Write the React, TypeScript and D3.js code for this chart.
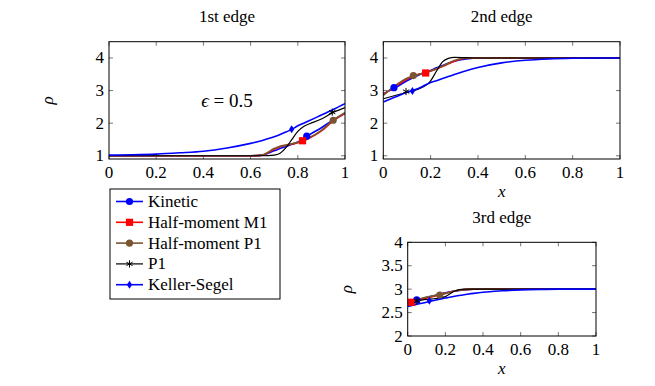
import * as d3 from "d3";

// series order: Kinetic, Half-moment M1, Half-moment P1, P1, Keller-Segel
const seriesNames = ["Kinetic", "Half-moment M1", "Half-moment P1", "P1", "Keller-Segel"];
const seriesColors = ["#0000ff", "#ff0000", "#7a5530", "#000000", "#0000ff"];
const seriesMarks = ["circle", "square", "circle", "star", "diamond"];

// 1st edge
const edge1X = [0, 0.1, 0.2, 0.3, 0.4, 0.5, 0.6, 0.65, 0.7, 0.725, 0.75, 0.775, 0.8, 0.825, 0.85, 0.9, 0.95, 1];
const edge1Kinetic = [1, 1, 1, 1, 1, 1, 1, 1.02, 1.15, 1.22, 1.28, 1.35, 1.42, 1.53, 1.65, 1.86, 2.1, 2.3];
const edge1M1 = [1, 1, 1, 1, 1, 1, 1, 1.02, 1.2, 1.28, 1.32, 1.36, 1.4, 1.46, 1.54, 1.76, 2.07, 2.3];
const edge1HP1 = [1, 1, 1, 1, 1, 1, 1, 1.03, 1.22, 1.29, 1.33, 1.37, 1.41, 1.48, 1.56, 1.78, 2.09, 2.32];
const edge1P1 = [1, 1, 1, 1, 1, 1, 1, 1, 1.02, 1.08, 1.25, 1.5, 1.75, 1.9, 1.98, 2.13, 2.33, 2.48];
const edge1KS = [1.02, 1.03, 1.05, 1.09, 1.14, 1.24, 1.38, 1.47, 1.58, 1.65, 1.73, 1.81, 1.92, 2.0, 2.08, 2.25, 2.42, 2.6];
const edge1Marks = [[0.838, 1.6], [0.82, 1.46], [0.95, 2.09], [0.946, 2.34], [0.774, 1.81]];

// 2nd edge
const edge2X = [0, 0.05, 0.1, 0.15, 0.2, 0.225, 0.25, 0.275, 0.3, 0.35, 0.4, 0.5, 0.6, 0.7, 0.8, 0.9, 1];
const edge2Kinetic = [2.9, 3.09, 3.3, 3.48, 3.62, 3.7, 3.77, 3.84, 3.9, 3.97, 4.0, 4, 4, 4, 4, 4, 4];
const edge2M1 = [2.88, 3.12, 3.35, 3.5, 3.6, 3.66, 3.74, 3.82, 3.9, 3.99, 4.0, 4, 4, 4, 4, 4, 4];
const edge2HP1 = [2.85, 3.15, 3.38, 3.5, 3.6, 3.67, 3.75, 3.84, 3.92, 4.0, 4.0, 4, 4, 4, 4, 4, 4];
const edge2P1 = [2.75, 2.85, 2.95, 3.05, 3.3, 3.6, 3.88, 3.99, 4.02, 4.01, 4.0, 4, 4, 4, 4, 4, 4];
const edge2KS = [2.65, 2.8, 2.95, 3.07, 3.25, 3.3, 3.37, 3.43, 3.49, 3.61, 3.71, 3.85, 3.93, 3.97, 3.99, 4.0, 4.0];
const edge2Marks = [[0.045, 3.09], [0.179, 3.54], [0.127, 3.46], [0.096, 2.97], [0.123, 2.99]];

// 3rd edge
const edge3X = [0, 0.05, 0.1, 0.15, 0.2, 0.25, 0.3, 0.35, 0.4, 0.5, 0.6, 0.7, 0.8, 1];
const edge3Kinetic = [2.72, 2.77, 2.82, 2.87, 2.92, 2.96, 2.985, 2.997, 3, 3, 3, 3, 3, 3];
const edge3M1 = [2.7, 2.76, 2.81, 2.86, 2.91, 2.96, 2.99, 3.0, 3, 3, 3, 3, 3, 3];
const edge3HP1 = [2.73, 2.78, 2.83, 2.87, 2.91, 2.96, 2.99, 3.0, 3, 3, 3, 3, 3, 3];
const edge3P1 = [2.72, 2.75, 2.78, 2.8, 2.84, 2.96, 3.0, 3.0, 3, 3, 3, 3, 3, 3];
const edge3KS = [2.63, 2.68, 2.72, 2.77, 2.81, 2.85, 2.88, 2.91, 2.935, 2.965, 2.985, 2.995, 3.0, 3.0];
const edge3Marks = [[0.048, 2.77], [0.02, 2.72], [0.17, 2.875], [0.05, 2.75], [0.115, 2.75]];

const xTicks = [0, 0.2, 0.4, 0.6, 0.8, 1];
const yTicksA = [1, 2, 3, 4];
const yTicksB = [2, 2.5, 3, 3.5, 4];

const FONT = "'Times New Roman', Times, 'Liberation Serif', 'DejaVu Serif', 'Noto Serif', serif";

function Marker({ kind, x, y, color }: { kind: string; x: number; y: number; color: string }) {
  if (kind === "circle") return <circle cx={x} cy={y} r={3.6} fill={color} />;
  if (kind === "square") return <rect x={x - 3.6} y={y - 3.6} width={7.2} height={7.2} fill={color} />;
  if (kind === "diamond")
    return <path d={`M${x},${y - 4}L${x + 2.6},${y}L${x},${y + 4}L${x - 2.6},${y}Z`} fill={color} />;
  // star
  const sym = d3.symbol(d3.symbolAsterisk, 36)();
  return <path d={sym || ""} transform={`translate(${x},${y})`} stroke={color} strokeWidth={1} fill="none" />;
}

type PanelProps = {
  left: number; right: number; top: number; bottom: number;
  yDomain: [number, number]; yTicks: number[];
  title: string; titleY: number; showX: boolean; showRho: boolean;
  xs: number[]; series: number[][]; marks: number[][];
};

function Panel(p: PanelProps) {
  const x = d3.scaleLinear().domain([0, 1]).range([p.left, p.right]);
  const y = d3.scaleLinear().domain(p.yDomain).range([p.bottom, p.top]);
  const line = d3.line<number>().x((_, i) => x(p.xs[i])).y((d) => y(d)).curve(d3.curveMonotoneX);
  const cx = (p.left + p.right) / 2;
  const tl = 4;
  const id = "clip" + p.title.replace(/\s/g, "");
  return (
    <g>
      <defs>
        <clipPath id={id}>
          <rect x={p.left} y={p.top} width={p.right - p.left} height={p.bottom - p.top} />
        </clipPath>
      </defs>
      <text x={cx} y={p.titleY} textAnchor="middle">{p.title}</text>
      {xTicks.map((t) => (
        <g key={"x" + t}>
          <line x1={x(t)} x2={x(t)} y1={p.bottom} y2={p.bottom - tl} stroke="#777" />
          <line x1={x(t)} x2={x(t)} y1={p.top} y2={p.top + tl} stroke="#777" />
          <text x={x(t)} y={p.bottom + 19} textAnchor="middle">{t}</text>
        </g>
      ))}
      {p.yTicks.map((t) => (
        <g key={"y" + t}>
          <line x1={p.left} x2={p.left + tl} y1={y(t)} y2={y(t)} stroke="#777" />
          <line x1={p.right} x2={p.right - tl} y1={y(t)} y2={y(t)} stroke="#777" />
          <text x={p.left - 5} y={y(t) + 5.5} textAnchor="end">{t}</text>
        </g>
      ))}
      <g clipPath={`url(#${id})`}>
        {p.series.map((s, i) => (
          <path key={i} d={line(s) || ""} fill="none" stroke={seriesColors[i]}
            strokeWidth={i === 3 ? 1.2 : 1.6} />
        ))}
      </g>
      {p.marks.map((m, i) => (
        <Marker key={i} kind={seriesMarks[i]} x={x(m[0])} y={y(m[1])} color={seriesColors[i]} />
      ))}
      <rect x={p.left} y={p.top} width={p.right - p.left} height={p.bottom - p.top} fill="none" stroke="#000" strokeWidth={1} />
      {p.showX && (
        <text x={cx} y={p.bottom + 38} textAnchor="middle" fontStyle="italic">x</text>
      )}
      {p.showRho && (
        <text transform={`translate(${p.left - 56},${(p.top + p.bottom) / 2}) rotate(-90)`} textAnchor="middle"
          fontStyle="italic">ρ</text>
      )}
    </g>
  );
}

export default function App() {
  return (
    <svg width={655} height={386}
      style={{ position: "absolute", left: 0, top: 0, background: "#fff", fontFamily: FONT, fontSize: 17 }}>
      <Panel left={109} right={345} top={41.7} bottom={159} yDomain={[0.9, 4.5]} yTicks={yTicksA}
        title="1st edge" titleY={22} showX={false} showRho={true} xs={edge1X}
        series={[edge1Kinetic, edge1M1, edge1HP1, edge1P1, edge1KS]} marks={edge1Marks} />
      <text x={227} y={107} textAnchor="middle" fontSize={19}>
        <tspan fontStyle="italic">ϵ</tspan> = 0.5
      </text>
      <Panel left={383.3} right={620} top={41.7} bottom={159} yDomain={[0.9, 4.5]} yTicks={yTicksA}
        title="2nd edge" titleY={22} showX={true} showRho={false} xs={edge2X}
        series={[edge2Kinetic, edge2M1, edge2HP1, edge2P1, edge2KS]} marks={edge2Marks} />
      <Panel left={407.7} right={596} top={242.3} bottom={336} yDomain={[2, 4]} yTicks={yTicksB}
        title="3rd edge" titleY={223} showX={true} showRho={true} xs={edge3X}
        series={[edge3Kinetic, edge3M1, edge3HP1, edge3P1, edge3KS]} marks={edge3Marks} />
      <g>
        <rect x={110} y={189} width={170} height={110} fill="#fff" stroke="#000" strokeWidth={1} />
        {seriesNames.map((n, i) => {
          const yy = 201.5 + i * 20.8;
          return (
            <g key={n}>
              <line x1={116} x2={143} y1={yy} y2={yy} stroke={seriesColors[i]} strokeWidth={i === 3 ? 1.2 : 1.6} />
              <Marker kind={seriesMarks[i]} x={129.5} y={yy} color={seriesColors[i]} />
              <text x={148} y={yy + 5.5}>{n}</text>
            </g>
          );
        })}
      </g>
    </svg>
  );
}
